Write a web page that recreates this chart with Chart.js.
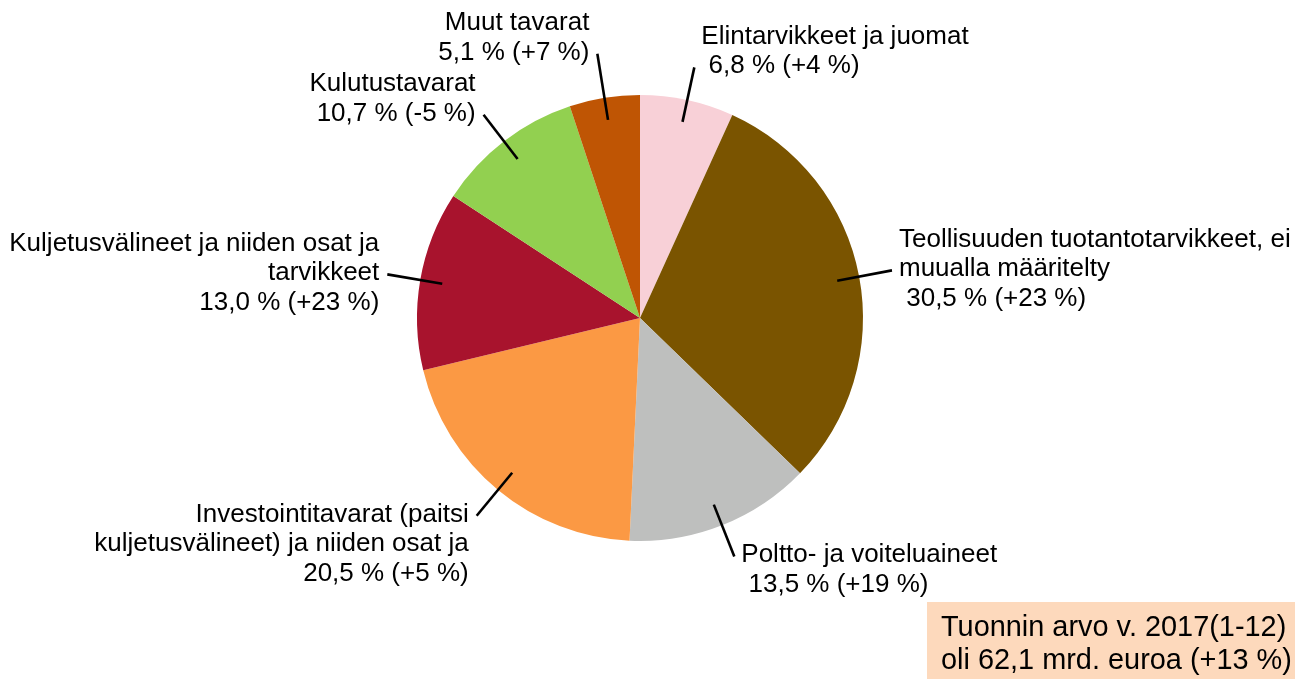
<!DOCTYPE html>
<html>
<head>
<meta charset="utf-8">
<script src="https://cdn.jsdelivr.net/npm/chart.js@4/dist/chart.umd.min.js"></script>
<style>
  html, body { margin: 0; padding: 0; background: #fff; }
  #wrap { width: 1295px; height: 679px; position: relative; }
</style>
</head>
<body>
<div id="wrap"><canvas id="pie" width="1295" height="679"></canvas></div>
<script>
// Import shares by product group, clockwise from 12 o'clock
const categories = [
  ['Elintarvikkeet ja juomat'],
  ['Teollisuuden tuotantotarvikkeet, ei', 'muualla määritelty'],
  ['Poltto- ja voiteluaineet'],
  ['Investointitavarat (paitsi', 'kuljetusvälineet) ja niiden osat ja'],
  ['Kuljetusvälineet ja niiden osat ja', 'tarvikkeet'],
  ['Kulutustavarat'],
  ['Muut tavarat']
];
const shares = [6.8, 30.5, 13.5, 20.5, 13.0, 10.7, 5.1];   // % of total
const changes = [4, 23, 19, 5, 23, -5, 7];                 // % change on previous year
const colors = ['#F8D0D7', '#7A5400', '#BEBFBE', '#FB9944', '#A8132D', '#92D050', '#BF5504'];
const noteLines = ['Tuonnin arvo v. 2017(1-12)', 'oli 62,1 mrd. euroa (+13 %)'];

// label placement: which side the text sits on, which text line the leader meets
const labelLayout = [
  { align: 'left', attach: 1 },
  { align: 'left', attach: 1 },
  { align: 'left', attach: 0 },
  { align: 'right', attach: 0 },
  { align: 'right', attach: 1 },
  { align: 'right', attach: 1 },
  { align: 'right', attach: 1, reach: 1.2 }
];

const FONT = '26px "Liberation Sans", Arial, sans-serif';
const LINE_H = 29.5;

const fmt = (v) => v.toFixed(1).replace('.', ',');
const valueText = (i) => fmt(shares[i]) + ' % (' + (changes[i] > 0 ? '+' : '') + changes[i] + ' %)';

const leaderLabels = {
  id: 'leaderLabels',
  afterDatasetsDraw(chart) {
    const ctx = chart.ctx;
    const arcs = chart.getDatasetMeta(0).data;
    ctx.save();
    ctx.font = FONT;
    ctx.fillStyle = '#000';
    ctx.strokeStyle = '#000';
    ctx.lineWidth = 2.6;
    ctx.textBaseline = 'alphabetic';
    arcs.forEach((a, i) => {
      const lay = labelLayout[i];
      const mid = (a.startAngle + a.endAngle) / 2;
      const R = a.outerRadius;
      const r0 = R * 0.9, r1 = R * (lay.reach || 1.15);
      const x0 = a.x + r0 * Math.cos(mid), y0 = a.y + r0 * Math.sin(mid);
      const x1 = a.x + r1 * Math.cos(mid), y1 = a.y + r1 * Math.sin(mid);
      ctx.beginPath();
      ctx.moveTo(x0, y0);
      ctx.lineTo(x1, y1);
      ctx.stroke();

      const lines = categories[i].concat([(lay.align === 'left' ? ' ' : '') + valueText(i)]);
      const tx = lay.align === 'left' ? x1 + 7 : x1 - 8;
      ctx.textAlign = lay.align;
      lines.forEach((t, k) => {
        ctx.fillText(t, tx, y1 + 6 + (k - lay.attach) * LINE_H);
      });
    });

    // summary box, bottom right
    ctx.fillStyle = '#FDD9BC';
    ctx.fillRect(927, 602, chart.width - 927, chart.height - 602);
    ctx.fillStyle = '#000';
    ctx.textAlign = 'left';
    ctx.font = '28.9px "Liberation Sans", Arial, sans-serif';
    noteLines.forEach((t, k) => ctx.fillText(t, 941, 636 + k * 33));
    ctx.restore();
  }
};

new Chart(document.getElementById('pie'), {
  type: 'pie',
  data: {
    labels: categories.map(c => c.join(' ')),
    datasets: [{
      data: shares,
      backgroundColor: colors,
      borderWidth: 0
    }]
  },
  options: {
    responsive: false,
    animation: false,
    layout: { padding: { top: 95, bottom: 138, left: 0, right: 15 } },
    plugins: {
      legend: { display: false },
      tooltip: { enabled: false }
    }
  },
  plugins: [leaderLabels]
});
</script>
</body>
</html>
